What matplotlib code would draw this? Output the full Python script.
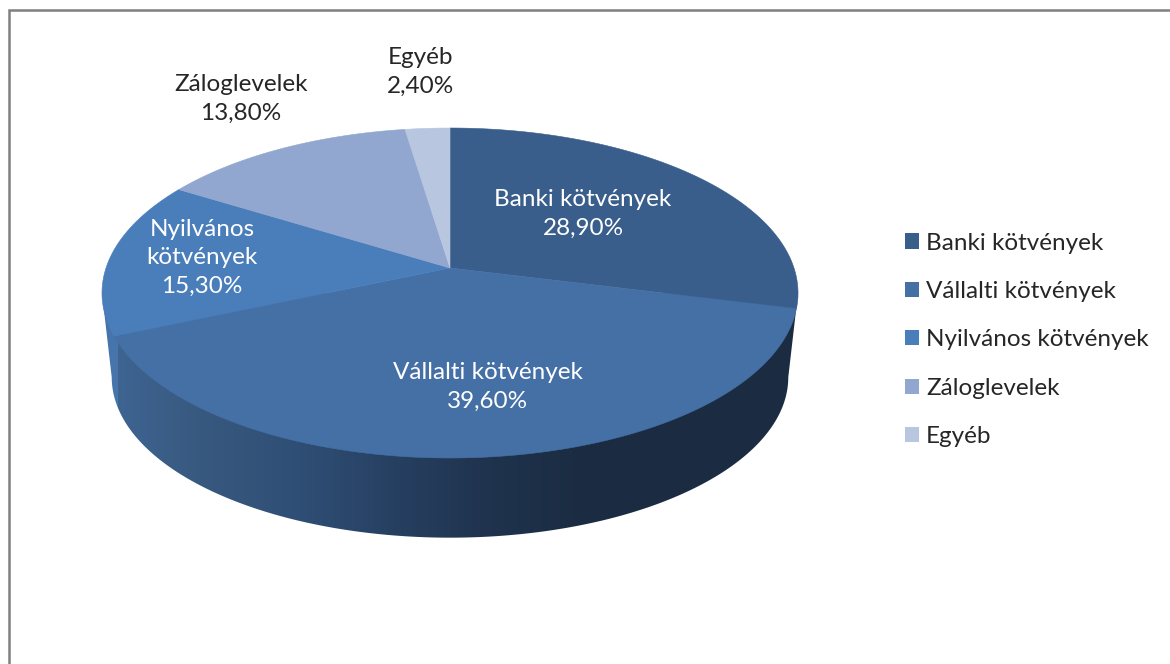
import numpy as np
import matplotlib
matplotlib.use('Agg')
import matplotlib.pyplot as plt
from matplotlib.patches import Patch, Polygon

plt.rcParams['font.family'] = ['Lato', 'DejaVu Sans']

# data
categories = ['Banki kötvények', 'Vállalti kötvények', 'Nyilvános kötvények', 'Záloglevelek', 'Egyéb']
shares = [28.9, 39.6, 15.3, 13.8, 2.4]
label_texts = ['Banki kötvények\n28,90%', 'Vállalti kötvények\n39,60%',
               'Nyilvános\nkötvények\n15,30%', 'Záloglevelek\n13,80%', 'Egyéb\n2,40%']

# style
top_colors = ['#395e8b', '#4570a5', '#4a7ebb', '#92a7cf', '#b9c6e0']
label_colors = ['white', 'white', 'white', '#262626', '#262626']
label_xy = [(583, 214), (488, 387), (202, 258), (241, 99), (420, 72)]
font_size = 17.5

# pie geometry, in pixels of the 1170x664 picture (perspective ellipse)
cx, cy = 450, 268
ax_x, ax_y, persp = 344, 161.2, 0.1515
depth, shrink = 85, 0.972

# wall shading, left to right
shade_x = [102, 117, 118, 200, 300, 400, 480, 580, 800]
shade_r = [70, 72, 62, 56, 47, 38, 32, 27, 27]
shade_g = [115, 118, 100, 89, 78, 63, 52, 44, 44]
shade_b = [170, 172, 146, 127, 117, 96, 79, 66, 66]


def project(theta, scale=1.0, dy=0.0):
    # theta runs clockwise from 12 o'clock
    xx = np.sin(theta)
    yy = np.cos(theta)
    w = 1 + persp * yy
    return cx + scale * ax_x * xx / w, cy + dy - scale * ax_y * yy / w


fig = plt.figure(figsize=(11.7, 6.64), dpi=100)
ax = fig.add_axes([0, 0, 1, 1])
ax.set_xlim(0, 1170)
ax.set_ylim(664, 0)
ax.axis('off')

# frame of the chart area, no right or bottom edge visible
ax.plot([8.5, 8.5, 1170], [664, 9.5, 9.5], color='#808080', lw=1.8, solid_joinstyle='miter')

# side wall: horizontal gradient clipped to the silhouette
t_right = np.arccos(-persp)
t_left = 2 * np.pi - t_right
ts = np.linspace(t_right, t_left, 400)
x_bot, y_bot = project(ts, shrink, depth)
x_r, y_r = project(t_right)
x_l, y_l = project(t_left)
wall = Polygon(np.c_[np.r_[x_r, x_bot, x_l], np.r_[y_r, y_bot, y_l]], closed=True,
               facecolor='none', edgecolor='none', transform=ax.transData)
ax.add_patch(wall)
grad_x = np.arange(100, 801)
grad = np.dstack([np.interp(grad_x, shade_x, shade_r),
                  np.interp(grad_x, shade_x, shade_g),
                  np.interp(grad_x, shade_x, shade_b)]).astype(np.uint8)
im = ax.imshow(grad, extent=(100, 800, 560, 280), aspect='auto', interpolation='nearest', zorder=2)
im.set_clip_path(wall)
ax.set_xlim(0, 1170)
ax.set_ylim(664, 0)

# top faces
edges = np.cumsum([0] + shares) / sum(shares) * 2 * np.pi
for k in range(len(shares)):
    t = np.linspace(edges[k], edges[k + 1], 200)
    x, y = project(t)
    ax.fill(np.r_[cx, x], np.r_[cy, y], facecolor=top_colors[k], edgecolor=top_colors[k],
            lw=0.4, zorder=3)

# data labels
for txt, (lx, ly), c in zip(label_texts, label_xy, label_colors):
    ax.text(lx, ly, txt, color=c, fontsize=font_size, ha='center', va='center',
            linespacing=1.45, zorder=5)

# legend
handles = [Patch(facecolor=c, edgecolor='none') for c in top_colors]
leg = ax.legend(handles, categories, loc='center left', bbox_to_anchor=(905 / 1170, 1 - 340 / 664),
                frameon=False, fontsize=font_size, handlelength=0.58, handleheight=0.58,
                handletextpad=0.29, labelspacing=1.13, borderpad=0, borderaxespad=0,
                labelcolor='#262626')

fig.savefig('out.png', dpi=100)
